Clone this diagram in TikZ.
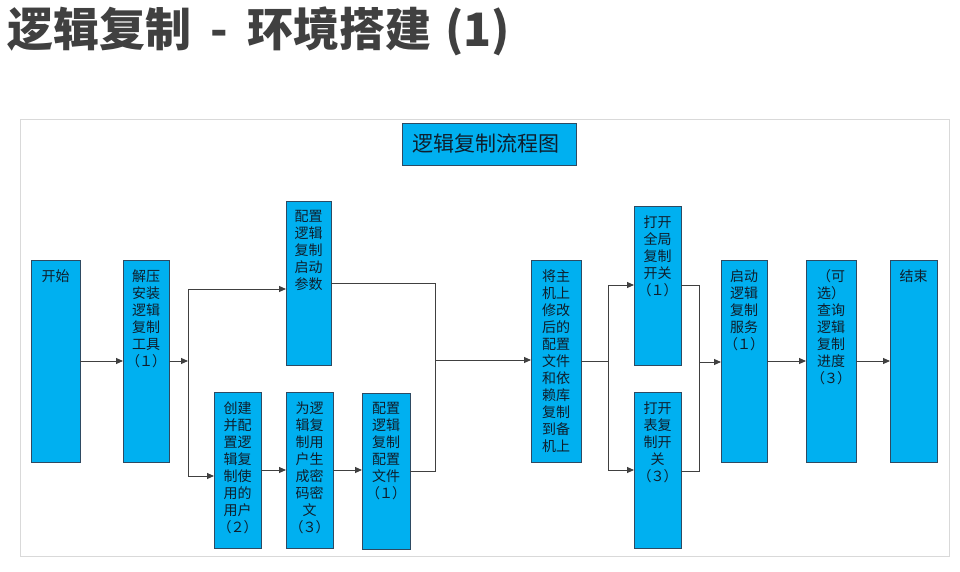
\documentclass[tikz,border=0pt]{standalone}
\usepackage{fontspec}
\setmainfont{Noto Sans CJK SC}
\usetikzlibrary{arrows.meta}
\definecolor{boxfill}{HTML}{00B0F0}
\definecolor{boxline}{HTML}{2E4A62}
\definecolor{titlegray}{HTML}{404040}
\definecolor{txt}{HTML}{0F1E2C}
\definecolor{framegray}{HTML}{D9D9D9}
\definecolor{conn}{HTML}{404040}
\tikzset{
  box/.style={draw=boxline, line width=0.9pt, fill=boxfill, inner sep=0pt, outer sep=0pt},
  boxtext/.style={anchor=north, align=center, inner xsep=0pt, inner ysep=9.5pt, text=txt, font=\fontsize{14}{17}\selectfont},
  wire/.style={draw=conn, line width=0.9pt},
  arr/.style={wire, -{Triangle[length=7pt,width=6pt]}},
}
\newcommand\flowbox[6]{% name, x1, y1, x2, y2, text
  \node[box, minimum width={#4-#2}, minimum height={#5-#3},
        label={[boxtext]north:#6}] (#1) at ({(#2+#4)/2},{-(#3+#5)/2}) {};}
\newcommand\np[1]{（\hspace{-1pt}#1\hspace{-1pt}）}
\begin{document}
\begin{tikzpicture}[x=1pt,y=1pt]
\useasboundingbox (0,0) rectangle (960,-572);
\fill[white] (0,0) rectangle (960,-572);
% page title
\node[anchor=west, inner sep=0pt, text=titlegray, font=\fontsize{46}{50}\selectfont\bfseries] (pagetitle) at (7,-31) {逻辑复制\hspace{0.42em}-\hspace{0.42em}环境搭建\hspace{0.3em}(1)};
% frame
\node[draw=framegray, line width=1pt, minimum width=929pt, minimum height=436pt, inner sep=0pt] (frame) at (484.5,-338) {};
% chart title
\node[box, minimum width=174pt, minimum height=42pt, text=txt, font=\fontsize{21}{24}\selectfont] (charttitle) at (489,-144) {\hspace{-6pt}逻辑复制流程图};
% boxes
\flowbox{start}{31}{260}{80}{462}{开始}
\flowbox{unzip}{123}{260}{169}{462}{解压\\安装\\逻辑\\复制\\工具\\\np{１}}
\flowbox{param}{286}{201}{331}{365}{配置\\逻辑\\复制\\启动\\参数}
\flowbox{user}{214}{392}{261}{548}{创建\\并配\\置逻\\辑复\\制使\\用的\\用户\\\np{２}}
\flowbox{pwd}{286}{392}{333}{548}{为逻\\辑复\\制用\\户生\\成密\\码密\\文\\\np{３}}
\flowbox{conf}{362}{393}{410}{549}{配置\\逻辑\\复制\\配置\\文件\\\np{１}}
\flowbox{copy}{531}{260}{581}{462}{将主\\机上\\修改\\后的\\配置\\文件\\和依\\赖库\\复制\\到备\\机上}
\flowbox{global}{634}{206}{681}{365}{打开\\全局\\复制\\开关\\\np{１}}
\flowbox{table}{634}{392}{681}{548}{打开\\表复\\制开\\关\\\np{３}}
\flowbox{svc}{721}{260}{767}{462}{启动\\逻辑\\复制\\服务\\\np{１}}
\flowbox{query}{806}{260}{856}{462}{（可\\选）\\查询\\逻辑\\复制\\进度\\\np{３}}
\flowbox{finish}{890}{260}{937}{462}{结束}
% connectors
\draw[arr] (start.east) -- (unzip.west);
\coordinate (s1) at (188,-361);
\coordinate (s1t) at (188,-289);
\coordinate (s1b) at (188,-476);
\draw[arr] (unzip.east) -- (s1);
\draw[wire] (s1t) -- (s1b);
\draw[arr] (s1t) -- (s1t -| param.west);
\draw[arr] (s1b) -- (s1b -| user.west);
\draw[arr] (user.east) -- (pwd.west);
\draw[arr] (pwd.east) -- (pwd.east -| conf.west);
\coordinate (m1t) at (435,-283);
\coordinate (m1b) at (435,-471);
\coordinate (m1) at (435,-360);
\draw[wire] (m1t -| param.east) -- (m1t) -- (m1b) -- (m1b -| conf.east);
\draw[arr] (m1) -- (m1 -| copy.west);
\coordinate (s2) at (608,-361);
\coordinate (s2t) at (608,-285);
\coordinate (s2b) at (608,-470);
\draw[wire] (copy.east) -- (s2);
\draw[wire] (s2t) -- (s2b);
\draw[arr] (s2t) -- (s2t -| global.west);
\draw[arr] (s2b) -- (s2b -| table.west);
\coordinate (m2t) at (699,-285);
\coordinate (m2b) at (699,-471);
\coordinate (m2) at (699,-362);
\draw[wire] (m2t -| global.east) -- (m2t) -- (m2b) -- (m2b -| table.east);
\draw[arr] (m2) -- (m2 -| svc.west);
\draw[arr] (svc.east) -- (query.west);
\draw[arr] (query.east) -- (finish.west);
\end{tikzpicture}
\end{document}
